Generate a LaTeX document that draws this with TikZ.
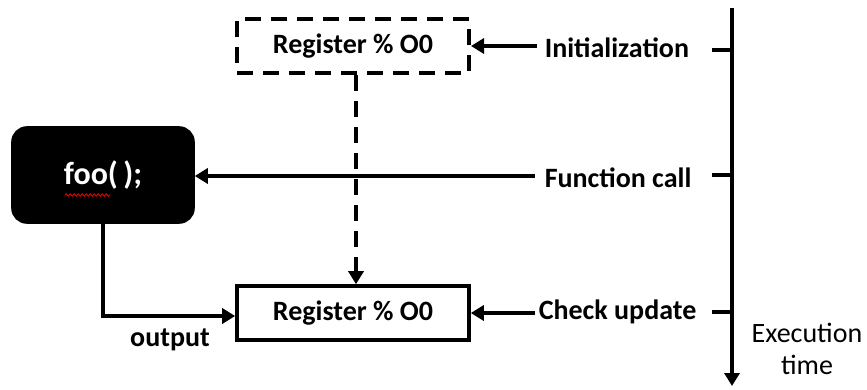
\documentclass[tikz,border=0pt]{standalone}
\usepackage{fontspec}
\setmainfont{Carlito}
\usetikzlibrary{arrows.meta,decorations.pathmorphing}
\begin{document}
\begin{tikzpicture}[x=1pt,y=-1pt,
  line width=3.6pt,
  tip/.style={-{Triangle[length=13pt,width=15pt]}},
  regbox/.style={draw,minimum width=232pt,minimum height=54pt,inner sep=0pt,font=\fontsize{28}{32}\selectfont\bfseries},
  lbl/.style={anchor=west,inner sep=0pt,font=\fontsize{28}{32}\selectfont\bfseries},
  tick/.style={line width=4pt}]
\useasboundingbox (0,0) rectangle (867,389);
% register boxes
\node[regbox,dashed,dash pattern=on 16pt off 10pt,line width=4pt] (reg0) at (353,46) {Register \% O0};
\node[regbox] (reg1) at (353,313) {Register \% O0};
% function call box
\node[draw,fill=black,rounded corners=14pt,minimum width=180pt,minimum height=94pt,inner sep=0pt,
      text=white,font=\fontsize{32}{36}\selectfont\bfseries] (foo) at (103,175) {foo(\,);};
\draw[red,line width=0.8pt,decorate,decoration={snake,amplitude=1.2pt,segment length=4pt}] (65,195) -- (110,195);
% event labels
\node[lbl] (init) at (543,48) {Initialization};
\node[lbl] (call) at (543,178) {Function call};
\node[lbl] (check) at (537,312) {Check update};
\node[inner sep=0pt,align=center,font=\fontsize{28}{32}\selectfont] (exec) at (807,349) {Execution\\time};
\node[inner sep=0pt,font=\fontsize{28}{32}\selectfont\bfseries] (out) at (170,340) {output};
% timeline
\coordinate (ttop) at (732,8);
\coordinate (tbot) at (732,386);
\draw[tip] (ttop) -- (tbot);
\draw[tick] (712,50) -- (732,50);
\draw[tick] (712,175) -- (732,175);
\draw[tick] (712,312) -- (732,312);
% connectors
\draw[tip] (init.west) ++(-6,-2) -- (reg0.east);
\draw[tip] (call.west) ++(-8,-2) -- (foo.east |- 0,176);
\draw[tip] (check.west) ++(-2,1) -- (reg1.east);
\draw[tip,dashed,dash pattern=on 16pt off 10pt] (reg0.south) ++(3,0) -- ([xshift=3pt]reg1.north);
\draw[tip] (foo.south) -- (103,316) -- (reg1.west |- 0,316);
\end{tikzpicture}
\end{document}
